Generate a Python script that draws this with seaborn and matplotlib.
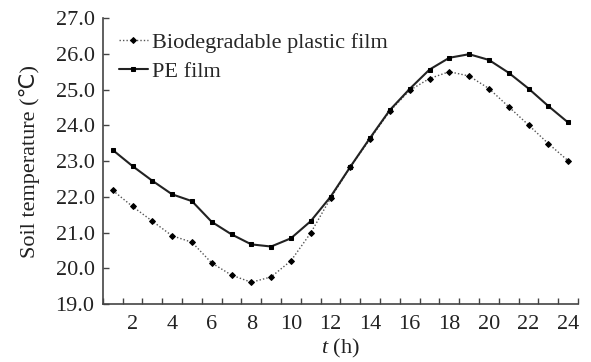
import numpy as np
import pandas as pd
import seaborn as sns
import matplotlib
matplotlib.use("Agg")
import matplotlib.pyplot as plt

hours = list(range(1, 25))
bio_film = [22.18, 21.73, 21.32, 20.91, 20.73, 20.15, 19.81, 19.61, 19.76, 20.21, 20.99, 21.96,
            22.83, 23.62, 24.40, 24.98, 25.31, 25.50, 25.38, 25.03, 24.52, 24.01, 23.49, 23.01]
pe_film = [23.31, 22.86, 22.45, 22.07, 21.88, 21.30, 20.95, 20.67, 20.61, 20.84, 21.32, 22.00,
           22.84, 23.65, 24.43, 25.02, 25.56, 25.89, 25.99, 25.83, 25.47, 25.03, 24.54, 24.08]
series_names = ["Biodegradable plastic film", "PE film"]
x_tick_labels = [str(h) for h in range(2, 25, 2)]
y_ticks = [19.0, 20.0, 21.0, 22.0, 23.0, 24.0, 25.0, 26.0, 27.0]

sns.set_theme(style="ticks")
plt.rcParams["font.family"] = ["Liberation Serif", "DejaVu Serif"]
plt.rcParams["mathtext.fontset"] = "custom"
plt.rcParams["mathtext.it"] = "Liberation Serif:italic"
plt.rcParams["mathtext.rm"] = "Liberation Serif"

fs = 16

df = pd.DataFrame({
    "hour": hours * 2,
    "temp": bio_film + pe_film,
    "film": [series_names[0]] * 24 + [series_names[1]] * 24,
})

fig = plt.figure(figsize=(5.91, 3.62), dpi=100)
ax = fig.add_axes([0.174, 0.160, 0.804, 0.790])

sns.lineplot(data=df[df.film == series_names[0]], x="hour", y="temp", ax=ax,
             color="#555555", linestyle=(0, (1, 1.5)), linewidth=1.0,
             marker="D", markersize=3, markerfacecolor="black", markeredgecolor="black",
             label=series_names[0])
sns.lineplot(data=df[df.film == series_names[1]], x="hour", y="temp", ax=ax,
             color="#222222", linestyle="-", linewidth=1.5,
             marker="s", markersize=3, markerfacecolor="black", markeredgecolor="black",
             label=series_names[1])

ax.set_xlim(0.5, 24.5)
ax.set_ylim(19.0, 27.0)
ax.set_yticks(y_ticks)
ax.set_yticklabels([f"{v:.1f}" for v in y_ticks], fontsize=fs, color="#222222")
ax.set_xticks(range(2, 25, 2))
ax.set_xticklabels(x_tick_labels, fontsize=fs, color="#222222")
ax.tick_params(axis="x", which="major", length=0, pad=8)
ax.set_xticks(np.arange(0.5, 25, 1.0), minor=True)
ax.tick_params(axis="x", which="minor", direction="in", length=4, width=1, color="#444444")
ax.tick_params(axis="y", direction="in", length=4, width=1, color="#444444", pad=6)

for side in ["top", "right"]:
    ax.spines[side].set_visible(False)
for side in ["left", "bottom"]:
    ax.spines[side].set_color("#444444")
    ax.spines[side].set_linewidth(1.2)

ax.set_xlabel("$t$ (h)", fontsize=fs, labelpad=2, color="#222222")
ax.set_ylabel("Soil temperature (\u2103)", fontsize=fs, labelpad=11, color="#222222",
              family=["Liberation Serif", "DejaVu Sans"])

ax.legend(loc="upper left", bbox_to_anchor=(0.015, 0.98), frameon=False, fontsize=fs,
          handlelength=1.3, handletextpad=0.2, labelspacing=0.35, borderaxespad=0)

fig.savefig("out.png", dpi=100)
